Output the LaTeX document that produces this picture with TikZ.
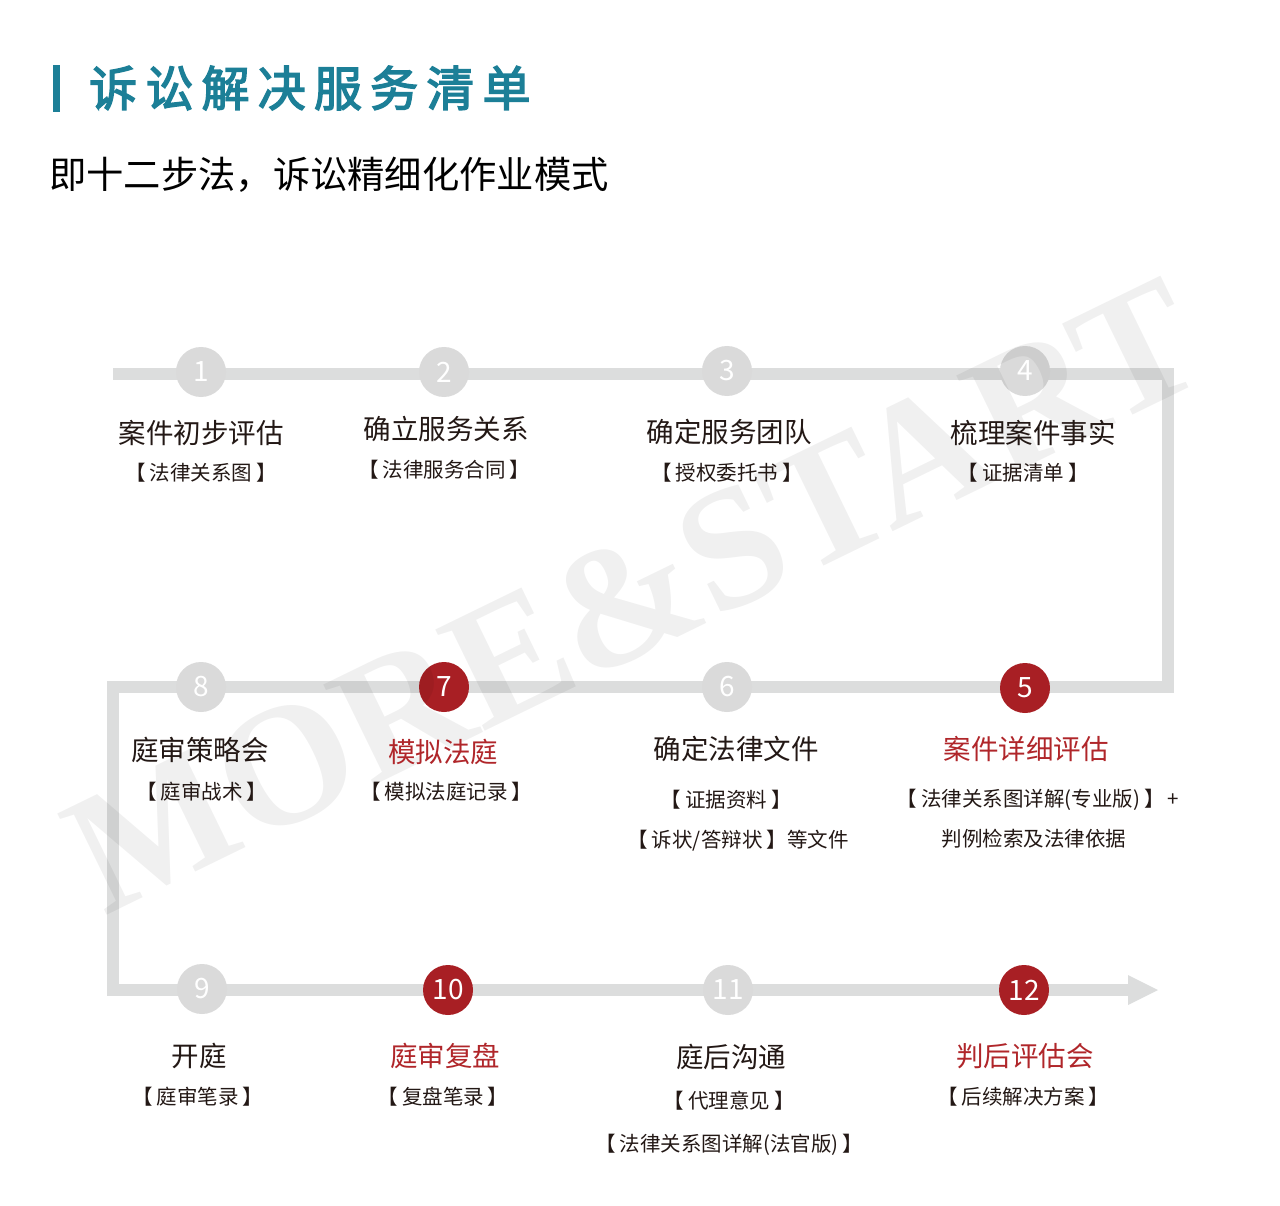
\documentclass[tikz,border=0pt]{standalone}
\usepackage{fontspec}
\newfontfamily\cjk{Noto Sans CJK SC}
\newfontfamily\cjktitle[AutoFakeBold=3]{Noto Sans CJK SC}
\newfontfamily\wmfont{Liberation Serif}
\newcommand\lbk{【\hspace{4pt}}
\newcommand\rbk{\hspace{4pt}】}
\definecolor{teal}{HTML}{1C7F97}
\definecolor{redc}{HTML}{A81F24}
\definecolor{redt}{HTML}{B0262A}
\definecolor{lineg}{HTML}{DCDDDD}
\definecolor{circg}{HTML}{DADADA}
\definecolor{ink}{HTML}{231815}
\tikzset{
  gcirc/.style={circle,fill=circg,minimum size=50pt,inner sep=0pt,text=white,font=\cjk\fontsize{28}{30}\selectfont},
  rcirc/.style={circle,fill=redc,minimum size=50pt,inner sep=0pt,text=white,font=\cjk\fontsize{28}{30}\selectfont},
  ttl/.style={inner sep=0pt,text=ink,font=\cjk\fontsize{27.5}{30}\selectfont},
  rttl/.style={inner sep=0pt,text=redt,font=\cjk\fontsize{27.5}{30}\selectfont},
  sub/.style={inner sep=0pt,text=ink,font=\cjk\fontsize{20.5}{24}\selectfont},
  track/.style={draw=lineg,line width=12pt,miter limit=10}
}
\begin{document}
\begin{tikzpicture}[x=1pt,y=-1pt]
\useasboundingbox (0,0) rectangle (1280,1206);
\fill[white] (0,0) rectangle (1280,1206);
% header
\fill[teal] (53,65) rectangle (60,112);
\node[anchor=west,inner sep=0pt,text=teal,font=\cjktitle\bfseries\fontsize{48}{52}\selectfont] (title) at (89,88)
  {诉\hspace{8.2pt}讼\hspace{8.2pt}解\hspace{8.2pt}决\hspace{8.2pt}服\hspace{8.2pt}务\hspace{8.2pt}清\hspace{8.2pt}单};
\node[anchor=west,inner sep=0pt,text=black,font=\cjk\fontsize{37.3}{40}\selectfont] (subtitle) at (49,175)
  {即十二步法，诉讼精细化作业模式};
% track
\coordinate (p0) at (113,374);
\coordinate (p1) at (1168,374);
\coordinate (p2) at (1168,687);
\coordinate (p3) at (113,687);
\coordinate (p4) at (113,990);
\coordinate (p5) at (1130,990);
\coordinate (tip) at (1158,990);
\draw[track] (p0) -- (p1) -- (p2) -- (p3) -- (p4) -- (p5);
\fill[lineg] (1128,975) -- (tip) -- (1128,1005) -- cycle;
% circles
\node[gcirc] (c1) at (201,372) {1};
\node[gcirc] (c2) at (444,372) {2};
\node[gcirc] (c3) at (727,371) {3};
\node[gcirc] (c4) at (1025,371) {4};
\node[rcirc] (c5) at (1025,688) {5};
\node[gcirc] (c6) at (727,687) {6};
\node[rcirc] (c7) at (444,687) {7};
\node[gcirc] (c8) at (201,687) {8};
\node[gcirc] (c9) at (202,989) {9};
\node[rcirc] (c10) at (448,990) {10};
\node[gcirc] (c11) at (728,990) {11};
\node[rcirc] (c12) at (1024,990) {12};
% watermark
\node[rotate=26,text=black,opacity=0.06,inner sep=0pt,font=\wmfont\bfseries\fontsize{172}{172}\selectfont] (wm) at (634,596) {MORE\&START};
% texts
\node[ttl] (t1) at (201,433) {案件初步评估};
\node[sub] (s1) at (201,473) {\lbk 法律关系图\rbk};
\node[ttl] (t2) at (446,429) {确立服务关系};
\node[sub] (s2) at (444,470) {\lbk 法律服务合同\rbk};
\node[ttl] (t3) at (729,432) {确定服务团队};
\node[sub] (s3) at (727,473) {\lbk 授权委托书\rbk};
\node[ttl] (t4) at (1033,433) {梳理案件事实};
\node[sub] (s4) at (1023,473) {\lbk 证据清单\rbk};
\node[ttl] (t8) at (200,750) {庭审策略会};
\node[sub] (s8) at (202,792) {\lbk 庭审战术\rbk};
\node[rttl] (t7) at (443,752) {模拟法庭};
\node[sub] (s7) at (446,792) {\lbk 模拟法庭记录\rbk};
\node[ttl] (t6) at (736,749) {确定法律文件};
\node[sub] (s6a) at (726,800) {\lbk 证据资料\rbk};
\node[sub] (s6b) at (738,841) {\lbk 诉状/答辩状\rbk 等文件};
\node[rttl] (t5) at (1026,749) {案件详细评估};
\node[sub] (s5a) at (1038,800) {\lbk 法律关系图详解(专业版)\rbk\,+};
\node[sub] (s5b) at (1034,839) {判例检索及法律依据};
\node[ttl] (t9) at (199,1056) {开庭};
\node[sub] (s9) at (198,1097) {\lbk 庭审笔录\rbk};
\node[rttl] (t10) at (445,1056) {庭审复盘};
\node[sub] (s10) at (443,1097) {\lbk 复盘笔录\rbk};
\node[ttl] (t11) at (731,1057) {庭后沟通};
\node[sub] (s11a) at (729,1101) {\lbk 代理意见\rbk};
\node[sub] (s11b) at (729,1145) {\lbk 法律关系图详解(法官版)\rbk};
\node[rttl] (t12) at (1025,1056) {判后评估会};
\node[sub] (s12) at (1023,1097) {\lbk 后续解决方案\rbk};
\end{tikzpicture}
\end{document}
